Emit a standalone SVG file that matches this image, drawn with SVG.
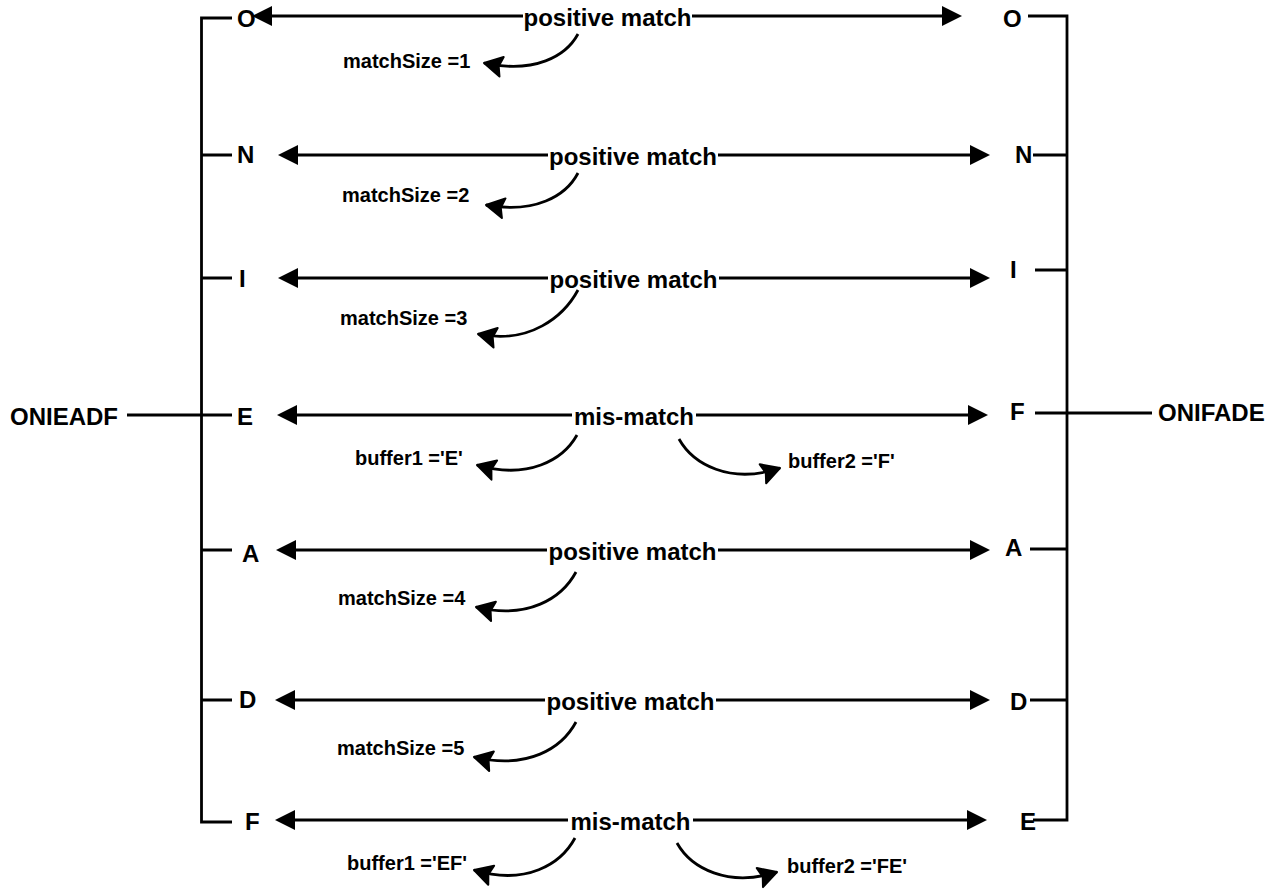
<svg xmlns="http://www.w3.org/2000/svg" width="1278" height="890" viewBox="0 0 1278 890">
<style>
text{font-family:"Liberation Sans",Arial,sans-serif;font-weight:bold;fill:#000}
.big{font-size:24px}
.lbl{font-size:24px;text-anchor:middle}
.small{font-size:20px}
.ln{fill:none;stroke:#000;stroke-width:2.8}
.arr{fill:none;stroke:#000;stroke-width:2.8;marker-end:url(#tri)}
.crv{fill:none;stroke:#000;stroke-width:2.8;marker-end:url(#chev)}
</style>
<defs>
<marker id="tri" markerUnits="userSpaceOnUse" markerWidth="24" markerHeight="24" viewBox="0 -12 24 24" refX="0" refY="0" orient="auto" overflow="visible"><path d="M0,-10 L20,0 L0,10 z" fill="#000"/></marker>
<marker id="chev" markerUnits="userSpaceOnUse" markerWidth="30" markerHeight="30" viewBox="-25 -15 30 30" refX="0" refY="0" orient="auto" overflow="visible"><path d="M-18,-10 L0,0 L-18,10 L-15,0 z" fill="#000" stroke="#000" stroke-width="2" stroke-linejoin="round"/></marker>
</defs>
<rect width="1278" height="890" fill="#fff"/>
<g id="connectors">
<path class="ln" d="M232,18 H201.5 V822 H232 M201.5,155 H232 M201.5,278 H232 M127,415 H232 M201.5,550 H232 M201.5,700 H232"/>
<path class="ln" d="M1028,16 H1067 V820 H1033 M1033,155 H1067 M1035,270 H1067 M1035,413 H1152 M1030,549 H1067 M1030,700 H1067"/>
<path class="arr" d="M523,16 H272"/><path class="arr" d="M692,16 H942"/>
<path class="arr" d="M548,155 H298"/><path class="arr" d="M718,155 H970"/>
<path class="arr" d="M548,278 H298"/><path class="arr" d="M719,278 H970"/>
<path class="arr" d="M572,415 H297"/><path class="arr" d="M696,415 H968"/>
<path class="arr" d="M547,550 H296"/><path class="arr" d="M718,550 H970"/>
<path class="arr" d="M545,700 H295"/><path class="arr" d="M716,700 H970"/>
<path class="arr" d="M568,820 H295"/><path class="arr" d="M693,820 H967"/>
<path class="crv" d="M578,34 C566,56 535,74 484,63"/>
<path class="crv" d="M578,173 C566,196 535,214 486,205"/>
<path class="crv" d="M578,290 C564,316 530,345 478,334"/>
<path class="crv" d="M577,435 C563,460 528,480 477,465"/>
<path class="crv" d="M679,439 C693,464 730,485 780,468"/>
<path class="crv" d="M576,572 C562,598 528,620 476,607"/>
<path class="crv" d="M576,722 C562,748 528,770 474,757"/>
<path class="crv" d="M575,838 C561,864 526,886 474,870"/>
<path class="crv" d="M677,843 C691,868 728,888 777,872"/>
</g>
<g id="str-left"><text class="big" x="10" y="425">ONIEADF</text></g>
<g id="str-right"><text class="big" x="1158" y="421">ONIFADE</text></g>
<g id="L-O"><text class="big" x="237" y="27">O</text></g>
<g id="L-N"><text class="big" x="237" y="163">N</text></g>
<g id="L-I"><text class="big" x="239" y="287">I</text></g>
<g id="L-E"><text class="big" x="237" y="425">E</text></g>
<g id="L-A"><text class="big" x="242" y="562">A</text></g>
<g id="L-D"><text class="big" x="239" y="708">D</text></g>
<g id="L-F"><text class="big" x="245" y="830">F</text></g>
<g id="R-O"><text class="big" x="1003" y="27">O</text></g>
<g id="R-N"><text class="big" x="1015" y="163">N</text></g>
<g id="R-I"><text class="big" x="1010" y="278">I</text></g>
<g id="R-F"><text class="big" x="1010" y="420">F</text></g>
<g id="R-A"><text class="big" x="1005" y="556">A</text></g>
<g id="R-D"><text class="big" x="1010" y="710">D</text></g>
<g id="R-E"><text class="big" x="1020" y="830">E</text></g>
<g id="m1"><text class="lbl" x="607.5" y="26">positive match</text><text class="small" x="343" y="68">matchSize =1</text></g>
<g id="m2"><text class="lbl" x="633" y="165">positive match</text><text class="small" x="342" y="202">matchSize =2</text></g>
<g id="m3"><text class="lbl" x="633.5" y="288">positive match</text><text class="small" x="340" y="325">matchSize =3</text></g>
<g id="mm1"><text class="lbl" x="634" y="425">mis-match</text><text class="small" x="355" y="465">buffer1 ='E'</text><text class="small" x="788" y="468">buffer2 ='F'</text></g>
<g id="m4"><text class="lbl" x="632.5" y="560">positive match</text><text class="small" x="338" y="605">matchSize =4</text></g>
<g id="m5"><text class="lbl" x="630.5" y="710">positive match</text><text class="small" x="337" y="755">matchSize =5</text></g>
<g id="mm2"><text class="lbl" x="630.5" y="830">mis-match</text><text class="small" x="347" y="870">buffer1 ='EF'</text><text class="small" x="787" y="873">buffer2 ='FE'</text></g>
</svg>
